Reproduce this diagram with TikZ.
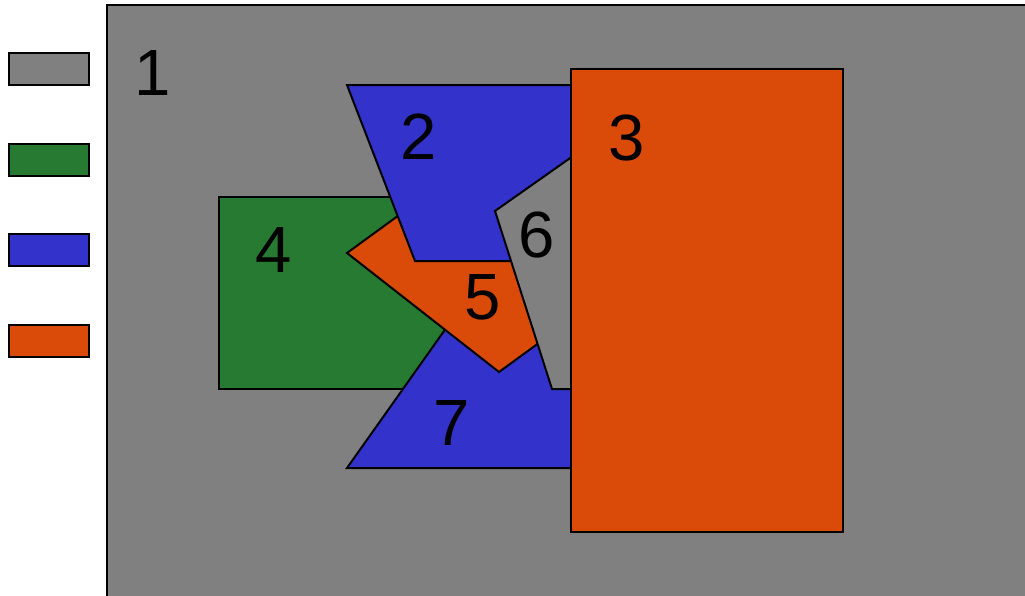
\documentclass[tikz,border=0pt]{standalone}
\usepackage{fontspec}
\setmainfont{Liberation Sans}
\usepackage{tikz}
\usetikzlibrary{positioning}
\definecolor{regiongray}{RGB}{128,128,128}
\definecolor{regiongreen}{RGB}{38,122,50}
\definecolor{regionblue}{RGB}{51,51,204}
\definecolor{regionorange}{RGB}{218,74,8}

\begin{document}
\begin{tikzpicture}[
  x=0.75pt, y=-0.75pt,
  region/.style={draw=black, line width=1.5pt, line join=miter},
  every node/.style={font=\fontsize{49}{52}\selectfont, inner sep=0pt}
]
\useasboundingbox (0,0) rectangle (1025,596);
\clip (0,0) rectangle (1025,596);
% legend swatches
\foreach \c/\y in {regiongray/53, regiongreen/144, regionblue/234, regionorange/325}
  \draw[region, fill=\c] (9,\y) rectangle (89,\y+32);
% background region
\draw[region, fill=regiongray] (107,5) rectangle (1040,610);
\draw[region, fill=regiongreen] (219,197) rectangle (450,389);
\draw[region, fill=regionblue] (347,468)--(600,468)--(600,300)--(466,300)--cycle;
\draw[region, fill=regionorange] (347,253)--(499,372)--(580,313)--(428,194)--cycle;
\draw[region, fill=regionblue] (347,85)--(600,85)--(600,261)--(415,261)--cycle;
\draw[region, fill=regiongray] (495,211)--(600,137)--(600,389)--(552,389)--cycle;
\draw[region, fill=regionorange] (571,69) rectangle (843,532);
% region numbers
\node (n1) at (153,73) {1};
\node (n2) at (419,137) {2};
\node (n3) at (627,138) {3};
\node (n4) at (274,250) {4};
\node (n5) at (483,297) {5};
\node (n6) at (537,235) {6};
\node (n7) at (452,423) {7};
\end{tikzpicture}
\end{document}
